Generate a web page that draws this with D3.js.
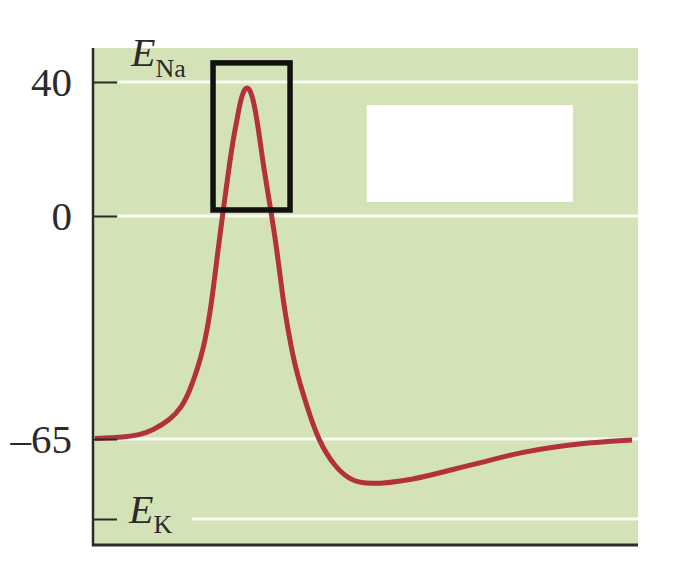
<!DOCTYPE html>
<html>
<head>
<meta charset="utf-8">
<script src="https://cdn.jsdelivr.net/npm/d3@7/dist/d3.min.js"></script>
<style>
  html, body { margin: 0; padding: 0; background: #ffffff; }
  svg { display: block; }
</style>
</head>
<body>
<svg id="chart" width="678" height="588"></svg>
<script>
// ---- data ----
// time (ms) of each traced point on the action potential
const timeMs = [0, 0.233, 0.419, 0.540, 0.698, 0.810, 0.885, 0.950, 1.006, 1.052, 1.089, 1.145,
                1.192, 1.238, 1.285, 1.322, 1.350, 1.378, 1.415, 1.453, 1.480, 1.508, 1.536,
                1.574, 1.629, 1.695, 1.750, 1.806, 1.862, 1.974, 2.086, 2.235, 2.374, 2.533,
                2.961, 3.305, 3.585, 3.957, 4.516, 5.0];
// membrane potential (mV)
const potentialMv = [-64.85, -64.56, -63.83, -62.38, -59.46, -55.67, -50.72, -44.89, -39.06, -31.77,
                     -24.48, -9.91, 1.19, 12.24, 22.69, 28.66, 33.73, 37.01, 38.81, 37.01, 33.73,
                     28.66, 22.69, 13.73, 3.28, -9.91, -24.48, -34.69, -44.01, -55.67, -65.94,
                     -73.75, -77.81, -79.38, -77.81, -74.69, -72.5, -69.06, -66.25, -65.31];
// axis ticks
const tickValues = [40, 0, -65, -90];
const tickLabels = ["40", "0", "\u201365", ""];
const eK = -90;     // E_K
// highlighted box around the spike (time range, mV range)
const boxTime = [1.099, 1.816];
const boxMv = [45.7, 1.8];
// blank inset box (time range, mV range)
const insetTime = [2.53, 4.45];
const insetMv = [33.1, 4.2];

(function () {
  // ---- layout ----
  const padL = 93, padR = 638, padT = 48, padB = 545;
  const svg = d3.select("#chart");

  const x = d3.scaleLinear().domain([0, 5]).range([95, 632]);
  const y = d3.scaleLinear().domain([40, 0, -65, -90]).range([82, 216, 439, 519]);

  const green = "#d4e2b8";
  const ink = "#2b2b2b";
  const serif = "'Liberation Serif', 'DejaVu Serif', serif";

  // background
  svg.append("rect").attr("x", padL).attr("y", padT)
    .attr("width", padR - padL).attr("height", padB - padT)
    .attr("fill", green);

  // white reference lines
  svg.append("g").selectAll("line").data(tickValues).join("line")
    .attr("x1", d => d === eK ? 192 : 118)
    .attr("x2", padR)
    .attr("y1", d => y(d)).attr("y2", d => y(d))
    .attr("stroke", "#f9faf2").attr("stroke-width", 3);

  // inset white box
  svg.append("rect")
    .attr("x", x(insetTime[0])).attr("y", y(insetMv[0]))
    .attr("width", x(insetTime[1]) - x(insetTime[0]))
    .attr("height", y(insetMv[1]) - y(insetMv[0]))
    .attr("fill", "#ffffff");

  // action potential curve
  const line = d3.line()
    .x((d, i) => x(timeMs[i]))
    .y(d => y(d))
    .curve(d3.curveBasis);
  svg.append("path").datum(potentialMv)
    .attr("d", line)
    .attr("fill", "none")
    .attr("stroke", "#b2313b")
    .attr("stroke-width", 5)
    .attr("stroke-linecap", "butt")
    .attr("stroke-linejoin", "round");

  // black highlight box
  svg.append("rect")
    .attr("x", x(boxTime[0])).attr("y", y(boxMv[0]))
    .attr("width", x(boxTime[1]) - x(boxTime[0]))
    .attr("height", y(boxMv[1]) - y(boxMv[0]))
    .attr("fill", "none").attr("stroke", "#111").attr("stroke-width", 5.5);

  // left axis
  const yAxis = d3.axisLeft(y)
    .tickValues(tickValues)
    .tickFormat((d, i) => tickLabels[i])
    .tickSizeInner(-24).tickSizeOuter(0).tickPadding(21);
  const gy = svg.append("g").attr("transform", `translate(${padL},0)`).call(yAxis);
  gy.select(".domain").remove();
  gy.selectAll(".tick line").attr("stroke", ink).attr("stroke-width", 2);
  gy.selectAll(".tick text")
    .attr("font-family", serif)
    .attr("font-size", 41).attr("fill", ink).attr("dy", "0.33em");

  // axis lines
  svg.append("line").attr("x1", padL).attr("x2", padL).attr("y1", padT).attr("y2", padB + 1)
    .attr("stroke", ink).attr("stroke-width", 2.5);
  svg.append("line").attr("x1", padL - 1).attr("x2", padR).attr("y1", padB).attr("y2", padB)
    .attr("stroke", ink).attr("stroke-width", 3);

  // E_Na label
  const tNa = svg.append("text").attr("x", 131).attr("y", y(40) - 16)
    .attr("font-family", serif).attr("fill", ink);
  tNa.append("tspan").attr("font-style", "italic").attr("font-size", 40).text("E");
  tNa.append("tspan").attr("font-size", 26).attr("dy", 11).text("Na");

  // E_K label
  const tK = svg.append("text").attr("x", 129).attr("y", y(eK) + 4)
    .attr("font-family", serif).attr("fill", ink);
  tK.append("tspan").attr("font-style", "italic").attr("font-size", 40).text("E");
  tK.append("tspan").attr("font-size", 26).attr("dy", 10).text("K");
})();
</script>
</body>
</html>
